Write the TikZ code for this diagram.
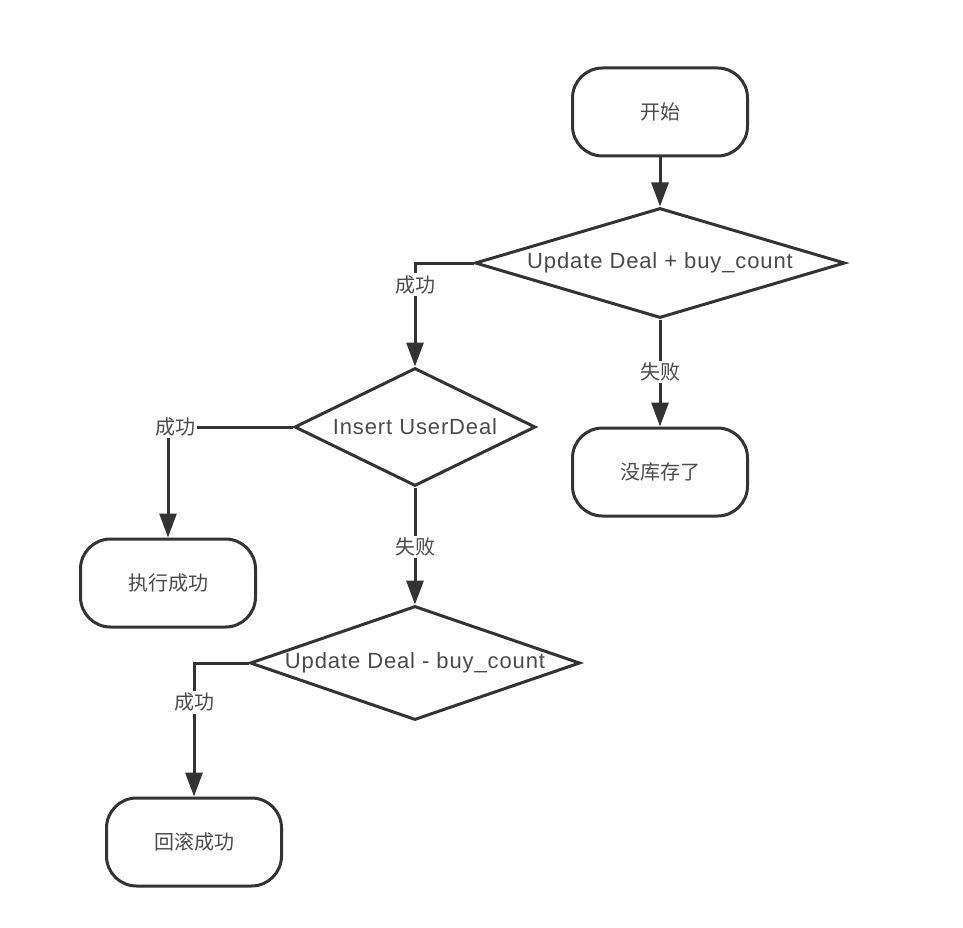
\documentclass[tikz,border=0pt]{standalone}
\usepackage{fontspec}
\setmainfont{Liberation Sans}
\newfontfamily\latin[LetterSpace=4]{Liberation Sans}
\newfontfamily\cjk{Noto Sans CJK SC}
\usetikzlibrary{shapes.geometric,arrows.meta}
\definecolor{lncol}{HTML}{333333}
\definecolor{txcol}{HTML}{4A4A4A}
\tikzset{
  base/.style={draw=lncol, line width=3pt, text=txcol},
  term/.style={base, rectangle, rounded corners=30pt, minimum width=175pt, minimum height=88pt, font=\cjk\fontsize{20}{24}\selectfont},
  dia/.style={base, diamond, inner sep=0pt},
  dtext/.style={text=txcol, font=\latin\fontsize{22}{26}\selectfont},
  lbl/.style={fill=white, text=txcol, inner sep=2pt, font=\cjk\fontsize{20}{24}\selectfont},
  conn/.style={draw=lncol, line width=3pt},
  arr/.style={conn, -{Triangle[length=24pt,width=17pt]}},
}
\begin{document}
\begin{tikzpicture}[x=1pt,y=-1pt]
\useasboundingbox (0,0) rectangle (963,928);
\node[term] (start) at (660,112) {开始};
\node[dia, minimum width=370pt, minimum height=110pt, label={[dtext]center:Update Deal + buy\_count}] (d1) at (660,263) {};
\node[dia, minimum width=241pt, minimum height=118pt, label={[dtext]center:Insert UserDeal}] (d2) at (415,427) {};
\node[term] (nk) at (660,472) {没库存了};
\node[term] (ok) at (168,583) {执行成功};
\node[dia, minimum width=330pt, minimum height=114pt, label={[dtext]center:Update Deal - buy\_count}] (d3) at (415,663) {};
\node[term] (rb) at (194,842) {回滚成功};

\draw[arr] (start.south) -- (d1.north);
\draw[arr] (d1.west) -| node[lbl, pos=0.605] {成功} (d2.north);
\draw[arr] (d1.south) -- node[lbl, pos=0.49] {失败} (nk.north);
\draw[arr] (d2.west) -| node[lbl, pos=0.5, xshift=7pt] {成功} (ok.north);
\draw[arr] (d2.south) -- node[lbl, pos=0.51] {失败} (d3.north);
\draw[arr] (d3.west) -| node[lbl, pos=0.647] {成功} (rb.north);
\end{tikzpicture}
\end{document}
